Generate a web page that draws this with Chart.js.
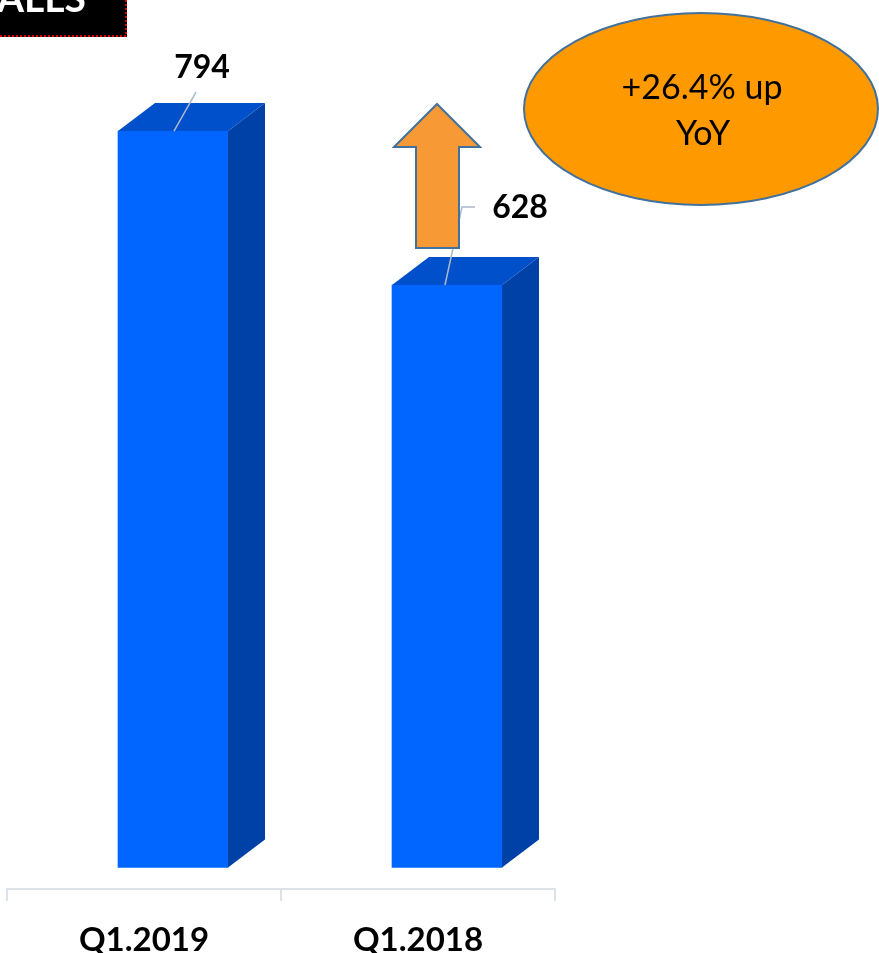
<!DOCTYPE html>
<html>
<head>
<meta charset="utf-8">
<script src="https://cdn.jsdelivr.net/npm/chart.js@4.4.1/dist/chart.umd.min.js"></script>
<style>
html, body { margin: 0; padding: 0; background: #fff; }
canvas { display: block; }
</style>
</head>
<body>
<canvas id="chart" width="879" height="953"></canvas>
<script>
// data
const categories = ['Q1.2019', 'Q1.2018'];
const calls = [794, 628];
const badgeLines = ['+26.4% up', 'YoY'];
const cornerTitle = 'ALLS';

const FONT = "Lato, 'Liberation Sans', sans-serif";
const frontColor = '#0066ff';
const topColor = '#0050cc';
const sideColor = '#0041a8';
const depthX = 37, depthY = 28;
const barShift = 29;

// leader line + label offsets, relative to front-top-centre of each bar
const labelLayout = [
    { line: [[1, 0], [23, -39]], text: [29, -63] },
    { line: [[-2, 0], [15, -78], [28, -78]], text: [73, -77] }
];

const bars3d = {
    id: 'bars3d',
    beforeDatasetsDraw(chart) {
        chart.ctx.save();
        chart.ctx.translate(barShift, 0);
    },
    afterDatasetsDraw(chart) {
        const ctx = chart.ctx;
        chart.getDatasetMeta(0).data.forEach(bar => {
            const l = bar.x - bar.width / 2, r = bar.x + bar.width / 2;
            const t = bar.y, b = bar.base;
            // top face
            ctx.fillStyle = topColor;
            ctx.beginPath();
            ctx.moveTo(l, t);
            ctx.lineTo(r, t);
            ctx.lineTo(r + depthX, t - depthY);
            ctx.lineTo(l + depthX, t - depthY);
            ctx.closePath();
            ctx.fill();
            // side face
            ctx.fillStyle = sideColor;
            ctx.beginPath();
            ctx.moveTo(r, t);
            ctx.lineTo(r + depthX, t - depthY);
            ctx.lineTo(r + depthX, b - depthY);
            ctx.lineTo(r, b);
            ctx.closePath();
            ctx.fill();
        });
        ctx.restore();
    },
    afterDraw(chart) {
        const ctx = chart.ctx;
        ctx.save();

        // value labels with leader lines
        chart.getDatasetMeta(0).data.forEach((bar, i) => {
            const cx = bar.x + barShift, cy = bar.y;
            const lay = labelLayout[i];
            ctx.strokeStyle = '#a9b8cc';
            ctx.lineWidth = 1.5;
            ctx.beginPath();
            lay.line.forEach((p, k) => {
                if (k === 0) ctx.moveTo(cx + p[0], cy + p[1]);
                else ctx.lineTo(cx + p[0], cy + p[1]);
            });
            ctx.stroke();
            ctx.fillStyle = '#000';
            ctx.font = 'bold 32px ' + FONT;
            ctx.textAlign = 'center';
            ctx.textBaseline = 'middle';
            ctx.fillText(String(calls[i]), cx + lay.text[0], cy + lay.text[1]);
        });

        // up arrow
        ctx.fillStyle = '#f79a36';
        ctx.strokeStyle = '#41719c';
        ctx.lineWidth = 2;
        ctx.beginPath();
        ctx.moveTo(437, 104);
        ctx.lineTo(480, 147);
        ctx.lineTo(459, 147);
        ctx.lineTo(459, 248);
        ctx.lineTo(416, 248);
        ctx.lineTo(416, 147);
        ctx.lineTo(394, 147);
        ctx.closePath();
        ctx.fill();
        ctx.stroke();

        // YoY badge
        ctx.fillStyle = '#ff9900';
        ctx.beginPath();
        ctx.ellipse(701, 109, 177, 96, 0, 0, Math.PI * 2);
        ctx.fill();
        ctx.stroke();
        ctx.fillStyle = '#000';
        ctx.font = '34px ' + FONT;
        ctx.textAlign = 'center';
        ctx.textBaseline = 'middle';
        ctx.fillText(badgeLines[0], 702, 88);
        ctx.fillText(badgeLines[1], 703, 134);

        // corner title box
        ctx.fillStyle = '#000';
        ctx.fillRect(0, 0, 127, 37);
        ctx.strokeStyle = '#e00000';
        ctx.lineWidth = 2;
        ctx.setLineDash([2, 2]);
        ctx.beginPath();
        ctx.moveTo(126, 0);
        ctx.lineTo(126, 36);
        ctx.lineTo(0, 36);
        ctx.stroke();
        ctx.setLineDash([]);
        ctx.fillStyle = '#fff';
        ctx.font = 'bold 39px ' + FONT;
        ctx.textAlign = 'left';
        ctx.textBaseline = 'alphabetic';
        ctx.fillText(cornerTitle, -3, 12);

        ctx.restore();
    }
};

new Chart(document.getElementById('chart'), {
    type: 'bar',
    data: {
        labels: categories,
        datasets: [{
            data: calls,
            backgroundColor: frontColor,
            borderWidth: 0,
            barThickness: 110
        }]
    },
    options: {
        responsive: false,
        animation: false,
        devicePixelRatio: 1,
        layout: { padding: { left: 7, right: 324, top: 20, bottom: 0 } },
        plugins: {
            legend: { display: false },
            tooltip: { enabled: false }
        },
        scales: {
            x: {
                afterFit(scale) { scale.height = 64; },
                grid: {
                    drawOnChartArea: false,
                    tickLength: 12,
                    color: '#dde2e8',
                    lineWidth: 2
                },
                border: { color: '#dde2e8', width: 2 },
                ticks: {
                    color: '#000',
                    padding: 23,
                    font: { family: FONT, size: 33, weight: 'bold', lineHeight: 1 }
                }
            },
            y: {
                display: false,
                min: -23.2,
                max: 913.7
            }
        }
    },
    plugins: [bars3d]
});
</script>
</body>
</html>
